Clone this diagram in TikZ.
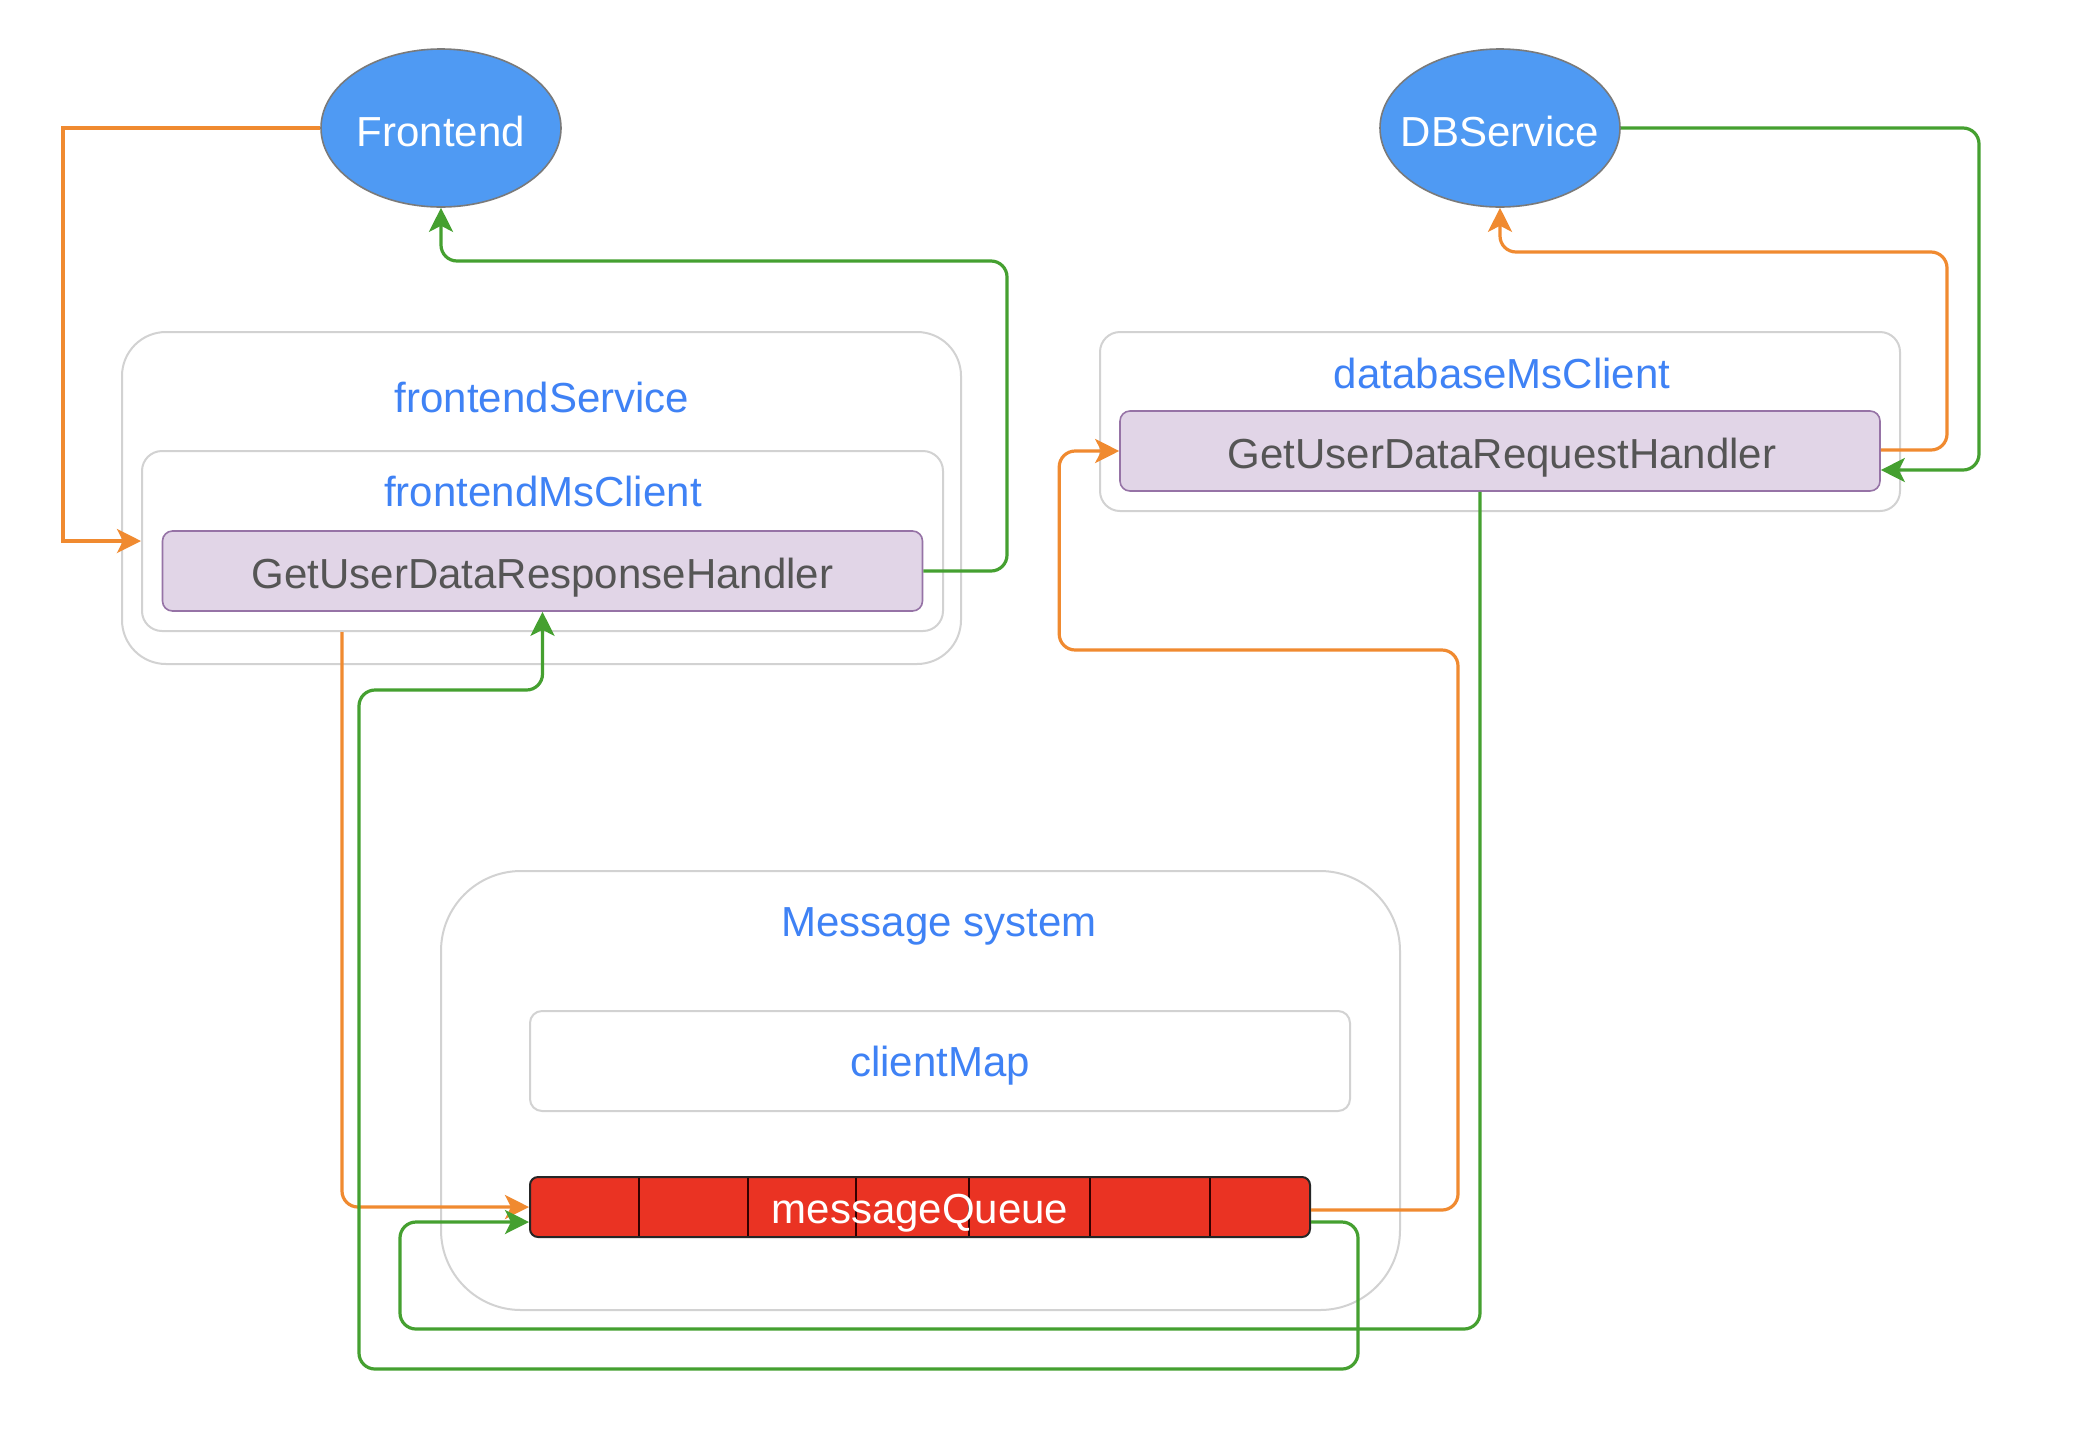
\documentclass[tikz,border=0pt]{standalone}
\usepackage{fontspec}
\setmainfont{Liberation Sans}
\usetikzlibrary{shapes.geometric,arrows.meta,calc}
\definecolor{svcblue}{HTML}{4F9AF3}
\definecolor{svcedge}{HTML}{7A7A7A}
\definecolor{lblblue}{HTML}{3F82F5}
\definecolor{boxgrey}{HTML}{D2D2D2}
\definecolor{hfill}{HTML}{E1D5E7}
\definecolor{hedge}{HTML}{9673A6}
\definecolor{htext}{HTML}{555555}
\definecolor{orangec}{HTML}{F08A30}
\definecolor{greenc}{HTML}{45A030}
\definecolor{qred}{HTML}{EA3323}
\begin{document}
\begin{tikzpicture}[x=0.5pt,y=-0.5pt,
  bigfont/.style={font=\fontsize{21}{25}\selectfont},
  svc/.style={ellipse, draw=svcedge, line width=0.8pt, fill=svcblue,
              minimum width=120pt, minimum height=79pt, inner sep=0pt},
  svctext/.style={text=white, bigfont, inner sep=0pt},
  cbox/.style={draw=boxgrey, line width=1pt, fill=white, inner sep=0pt},
  lbl/.style={text=lblblue, bigfont, inner sep=0pt},
  handler/.style={draw=hedge, line width=0.8pt, fill=hfill,
                  rounded corners=5pt, minimum width=380pt, minimum height=40pt, inner sep=0pt},
  htxt/.style={text=htext, bigfont, inner sep=0pt},
  tip/.style={-{Stealth[length=12pt,width=12pt,inset=3pt]}},
  ora/.style={draw=orangec, line width=1.6pt, tip},
  grn/.style={draw=greenc, line width=1.6pt, tip},
  rc/.style={rounded corners=8pt}
]
\useasboundingbox (0,0) rectangle (2088,1436);
\fill[white] (0,0) rectangle (2088,1436);

% services
\node[svc] (front) at (441,128) {};
\node[svctext] (frontl) at (441,131) {Frontend};
\node[svc] (db) at (1500,128) {};
\node[svctext] (dbl) at (1500,131) {DBService};

% frontend service
\node[cbox, rounded corners=22pt, minimum width=419.5pt, minimum height=166pt] (fs) at (541.5,498) {};
\node[lbl] (fsl) at (542,397) {frontendService};
\node[cbox, rounded corners=10pt, minimum width=400.5pt, minimum height=90pt] (fmc) at (542.5,541) {};
\node[lbl] (fmcl) at (543,491) {frontendMsClient};
\node[handler] (frh) at (542.5,571) {};
\node[htxt] (frhl) at (542.5,578) {GetUserDataResponseHandler};

% database client
\node[cbox, rounded corners=10pt, minimum width=400pt, minimum height=89.5pt] (dmc) at (1500,421.5) {};
\node[lbl] (dmcl) at (1502,373) {databaseMsClient};
\node[handler] (drh) at (1500,451) {};
\node[htxt] (drhl) at (1502,458) {GetUserDataRequestHandler};

% message system
\node[cbox, rounded corners=40pt, minimum width=479.5pt, minimum height=219.5pt] (ms) at (920.5,1090.5) {};
\node[lbl] (msl) at (939,926) {Message system};
\node[cbox, rounded corners=6pt, minimum width=410pt, minimum height=50pt] (cm) at (940,1061) {};
\node[lbl] (cml) at (940,1066) {clientMap};
\node[draw=black!85, line width=1pt, fill=qred, rounded corners=4pt,
      minimum width=390pt, minimum height=30pt, inner sep=0pt] (mq) at (920,1207) {};
\foreach \x in {639,748,856,969,1090,1210}
  \draw[black!80!red, line width=0.8pt] (\x,1178) -- (\x,1236);
\node[text=white, bigfont, inner sep=0pt] (mql) at (920,1213) {messageQueue};

% connectors
\draw[ora] (front.west) -| (63,541) -- (fmc.west);
\draw[grn, rc] (frh.east) -| (1007,261) -| (front.south);
\draw[ora, rc] ($(fmc.south west)+(201,0)$) |- (mq.west);
\draw[grn, rc] ($(mq.east)+(0,15)$) -| (1358,1369) -| (359,690) -| (frh.south);
\draw[ora, rc] ($(mq.east)+(0,3)$) -| (1458,650) -| ($(drh.west)+(-60,0)$) -- (drh.west);
\draw[grn, rc] ($(drh.south)+(-20,0)$) |- (400,1329) |- ($(mq.west)+(0,15)$);
\draw[ora, rc] ($(drh.east)+(0,-1)$) -| (1947,252) -| (db.south);
\draw[grn, rc] (db.east) -| (1979,470) -- ($(drh.east)+(0,19)$);
\end{tikzpicture}
\end{document}
